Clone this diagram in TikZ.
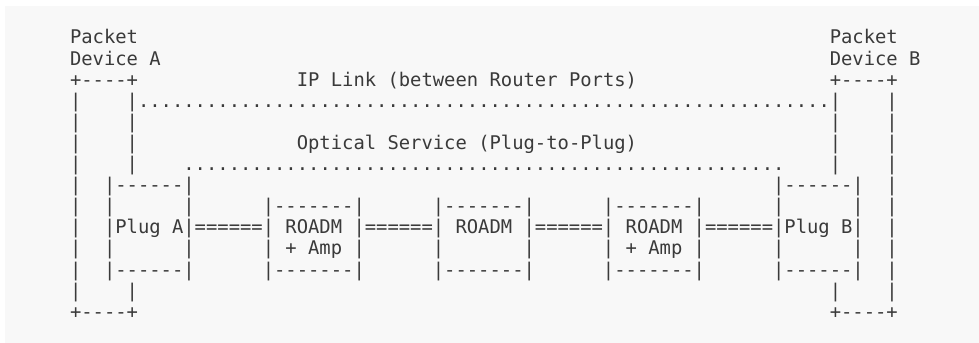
\documentclass[tikz,border=0pt]{standalone}
\usepackage{fontspec}
\setmonofont{DejaVu Sans Mono}
\usepackage{xcolor}
\usepackage{tikz}
\definecolor{ink}{HTML}{3A3A3A}
\definecolor{paper}{HTML}{F8F8F8}

\begin{document}
\begin{tikzpicture}[
  x=11.34pt, y=-21.1pt,
  ascii/.style={inner sep=0pt, outer sep=0pt, anchor=base west, text=ink,
                font=\ttfamily\fontsize{18.84pt}{21.1pt}\selectfont},
]
\useasboundingbox (-6.173,-1.085) rectangle (80.159,15.171);
\fill[paper] (-5.732,-0.801) rectangle (80.159,15.171);

%% Packet devices
\node[ascii] (pktA) at (0,1) {Packet};
\node[ascii] (devA) at (0,2) {Device A};
\node[ascii] (pktB) at (67,1) {Packet};
\node[ascii] (devB) at (67,2) {Device B};
\node[ascii] (topA) at (0,3)  {+----+};
\node[ascii] (botA) at (0,14) {+----+};
\node[ascii] (topB) at (67,3)  {+----+};
\node[ascii] (botB) at (67,14) {+----+};
\foreach \r in {4,...,13}{
  \node[ascii] (outA\r) at (0,\r)  {|};
  \node[ascii] (outB\r) at (72,\r) {|};
}
\foreach \r in {4,5,6,7,13}{
  \node[ascii] (inA\r) at (5,\r)  {|};
  \node[ascii] (inB\r) at (67,\r) {|};
}

%% Service spans
\node[ascii] (ipLink)  at (20,3) {IP Link (between Router Ports)};
\node[ascii] (ipDots)  at (6,4)  {\foreach \i in {1,...,61}{.}};
\node[ascii] (optSvc)  at (20,6) {Optical Service (Plug-to-Plug)};
\node[ascii] (optDots) at (10,7) {\foreach \i in {1,...,53}{.}};

%% Plugs
\node[ascii] (plugAt) at (3,8)  {|------|};
\node[ascii] (plugAu) at (3,9)  {|~~~~~~|};
\node[ascii] (plugA)  at (3,10) {|Plug A|};
\node[ascii] (plugAl) at (3,11) {|~~~~~~|};
\node[ascii] (plugAb) at (3,12) {|------|};
\node[ascii] (plugBt) at (62,8)  {|------|};
\node[ascii] (plugBu) at (62,9)  {|~~~~~~|};
\node[ascii] (plugB)  at (62,10) {|Plug B|};
\node[ascii] (plugBl) at (62,11) {|~~~~~~|};
\node[ascii] (plugBb) at (62,12) {|------|};

%% ROADMs
\foreach \c/\n in {17/A, 32/B, 47/C}{
  \node[ascii] (roadm\n t) at (\c,9)  {|-------|};
  \node[ascii] (roadm\n)   at (\c,10) {|~ROADM~|};
  \node[ascii] (roadm\n b) at (\c,12) {|-------|};
}
\node[ascii] (ampA) at (17,11) {|~+~Amp~|};
\node[ascii] (gapB) at (32,11) {|~~~~~~~|};
\node[ascii] (ampC) at (47,11) {|~+~Amp~|};

%% Fibre links
\foreach \c/\n in {11/1, 26/2, 41/3, 56/4}
  \node[ascii] (fib\n) at (\c,10) {======};

\end{tikzpicture}
\end{document}
